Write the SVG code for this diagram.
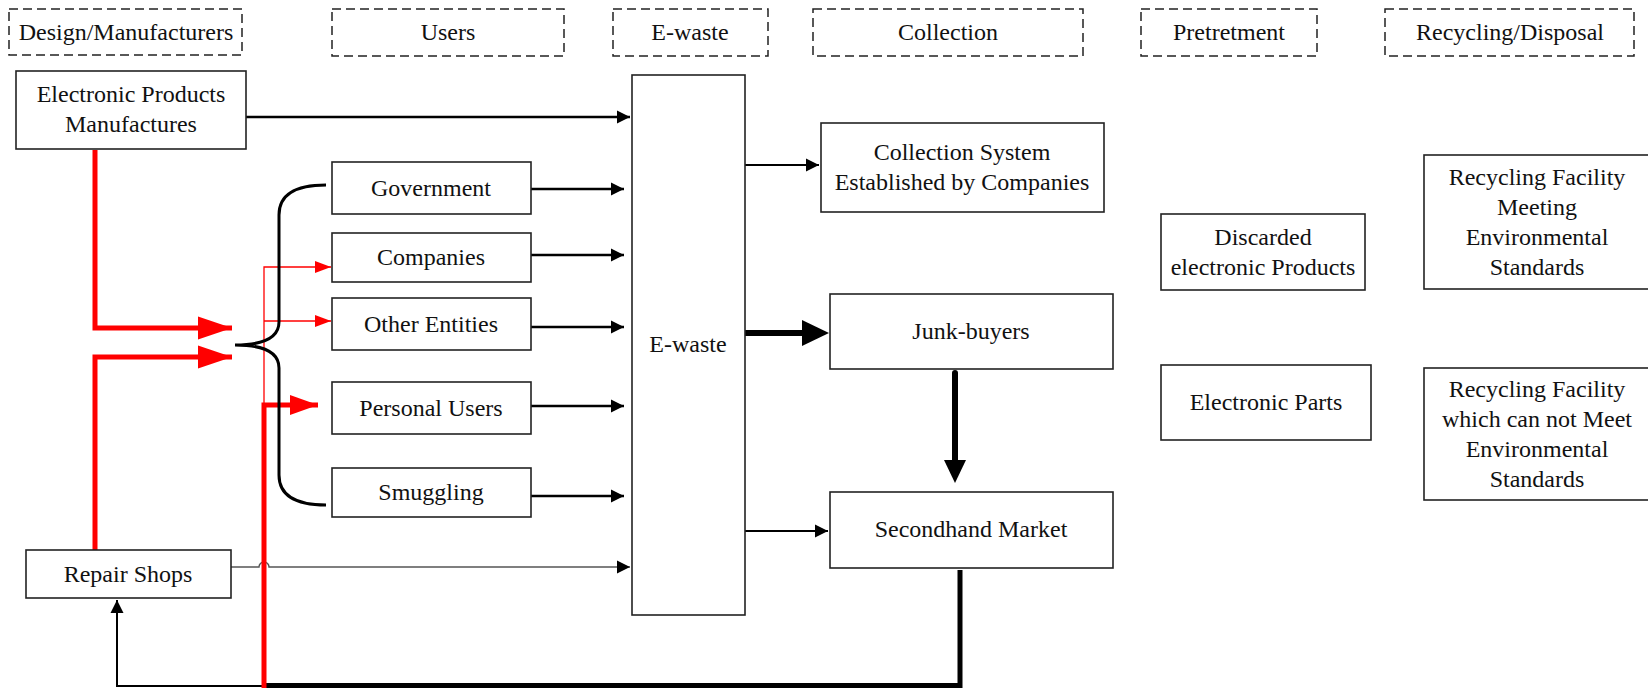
<svg xmlns="http://www.w3.org/2000/svg" width="1648" height="688" viewBox="0 0 1648 688">
<style>
text{font-family:"Liberation Serif","Times New Roman",serif;font-size:24px;fill:#111;text-anchor:middle}
.hdr{fill:none;stroke:#222;stroke-width:1.5;stroke-dasharray:9 5}
.box{fill:#fff;stroke:#222;stroke-width:1.6}
.ln{fill:none;stroke:#000;stroke-width:2.5}
.thin{fill:none;stroke:#555;stroke-width:1.4}
.thick{fill:none;stroke:#000;stroke-width:6}
.red{fill:none;stroke:#f00;stroke-width:5}
.redthin{fill:none;stroke:#f00;stroke-width:1.3}
</style>
<defs>
<marker id="ab" markerUnits="userSpaceOnUse" markerWidth="14" markerHeight="14" refX="13" refY="6.5" orient="auto" overflow="visible"><path d="M0,0 L13,6.5 L0,13 z" fill="#000"/></marker>
<marker id="abt" markerUnits="userSpaceOnUse" markerWidth="28" markerHeight="28" refX="4" refY="13" orient="auto" overflow="visible"><path d="M0,0 L27,13 L0,26 z" fill="#000"/></marker>
<marker id="abd" markerUnits="userSpaceOnUse" markerWidth="24" markerHeight="24" refX="4" refY="11" orient="auto" overflow="visible"><path d="M0,0 L23,11 L0,22 z" fill="#000"/></marker>
<marker id="rb" markerUnits="userSpaceOnUse" markerWidth="36" markerHeight="24" refX="34" refY="11.5" orient="auto" overflow="visible"><path d="M0,0 L34,11.5 L0,23 z" fill="#f00"/></marker>
<marker id="rm" markerUnits="userSpaceOnUse" markerWidth="30" markerHeight="22" refX="28" refY="10" orient="auto" overflow="visible"><path d="M0,0 L28,10 L0,20 z" fill="#f00"/></marker>
<marker id="rs" markerUnits="userSpaceOnUse" markerWidth="18" markerHeight="14" refX="16" refY="6" orient="auto" overflow="visible"><path d="M0,0 L16,6 L0,12 z" fill="#f00"/></marker>
</defs>
<rect width="1648" height="688" fill="#fff"/>

<g id="headers">
<g id="h-design"><rect class="hdr" x="9" y="9" width="233" height="46"/><text x="126" y="40">Design/Manufacturers</text></g>
<g id="h-users"><rect class="hdr" x="332" y="9" width="232" height="47"/><text x="448" y="40">Users</text></g>
<g id="h-ewaste"><rect class="hdr" x="613" y="9" width="155" height="47"/><text x="690" y="40">E-waste</text></g>
<g id="h-collection"><rect class="hdr" x="813" y="9" width="270" height="47"/><text x="948" y="40">Collection</text></g>
<g id="h-pre"><rect class="hdr" x="1141" y="9" width="176" height="47"/><text x="1229" y="40">Pretretment</text></g>
<g id="h-rec"><rect class="hdr" x="1385" y="9" width="249" height="47"/><text x="1510" y="40">Recycling/Disposal</text></g>
</g>

<g id="connectors">
<path class="ln" d="M246 117 H630" marker-end="url(#ab)"/>
<path class="ln" d="M531 189 H624" marker-end="url(#ab)"/>
<path class="ln" d="M531 255 H624" marker-end="url(#ab)"/>
<path class="ln" d="M531 327 H624" marker-end="url(#ab)"/>
<path class="ln" d="M531 406 H624" marker-end="url(#ab)"/>
<path class="ln" d="M531 496 H624" marker-end="url(#ab)"/>
<path class="thin" d="M231 567 H259 A5 5 0 0 1 269 567 H630" marker-end="url(#ab)"/>
<path class="ln" style="stroke-width:2" d="M745 165 H819" marker-end="url(#ab)"/>
<path class="thick" style="stroke-linecap:round" d="M743 333 H806" marker-end="url(#abt)"/>
<path class="thick" style="stroke-linecap:round" d="M955 373 V464" marker-end="url(#abd)"/>
<path class="ln" style="stroke-width:2" d="M745 531 H828" marker-end="url(#ab)"/>
<path class="thick" style="stroke-width:5" d="M960 570 V685.5 H264"/>
<path class="ln" style="stroke-width:2" d="M264 686 H117 V600" marker-end="url(#ab)"/>
<path class="red" d="M95 150 V328 H232" marker-end="url(#rb)"/>
<path class="red" d="M95 550 V357 H232" marker-end="url(#rb)"/>
<path class="redthin" d="M264 405 V267 H331" marker-end="url(#rs)"/>
<path class="redthin" d="M264 321 H331" marker-end="url(#rs)"/>
<path class="red" d="M264 688 V405 H318" marker-end="url(#rm)"/>
<path id="brace" fill="none" stroke="#000" stroke-width="3" d="M326 185 Q279 185 279 215 V322 Q279 345 235 345 Q279 345 279 368 V475 Q279 505 326 505"/>
</g>

<g id="n-epm"><rect class="box" x="16" y="71" width="230" height="78"/><text x="131" y="102">Electronic Products</text><text x="131" y="132">Manufactures</text></g>
<g id="n-gov"><rect class="box" x="332" y="162" width="199" height="52"/><text x="431" y="196">Government</text></g>
<g id="n-comp"><rect class="box" x="332" y="233" width="199" height="49"/><text x="431" y="265">Companies</text></g>
<g id="n-other"><rect class="box" x="332" y="298" width="199" height="52"/><text x="431" y="332">Other Entities</text></g>
<g id="n-personal"><rect class="box" x="332" y="382" width="199" height="52"/><text x="431" y="416">Personal Users</text></g>
<g id="n-smug"><rect class="box" x="332" y="468" width="199" height="49"/><text x="431" y="500">Smuggling</text></g>
<g id="n-repair"><rect class="box" x="26" y="550" width="205" height="48"/><text x="128" y="582">Repair Shops</text></g>
<g id="n-ewaste"><rect class="box" fill="none" x="632" y="75" width="113" height="540"/><text x="688" y="352">E-waste</text></g>
<g id="n-colsys"><rect class="box" x="821" y="123" width="283" height="89"/><text x="962" y="160">Collection System</text><text x="962" y="190">Established by Companies</text></g>
<g id="n-junk"><rect class="box" x="830" y="294" width="283" height="75"/><text x="971" y="339">Junk-buyers</text></g>
<g id="n-second"><rect class="box" x="830" y="492" width="283" height="76"/><text x="971" y="537">Secondhand Market</text></g>
<g id="n-discard"><rect class="box" x="1161" y="214" width="204" height="76"/><text x="1263" y="245">Discarded</text><text x="1263" y="275">electronic Products</text></g>
<g id="n-parts"><rect class="box" x="1161" y="365" width="210" height="75"/><text x="1266" y="410">Electronic Parts</text></g>
<g id="n-rfmeet"><rect class="box" x="1424" y="155" width="230" height="134"/><text x="1537" y="185">Recycling Facility</text><text x="1537" y="215">Meeting</text><text x="1537" y="245">Environmental</text><text x="1537" y="275">Standards</text></g>
<g id="n-rfnot"><rect class="box" x="1424" y="368" width="230" height="132"/><text x="1537" y="397">Recycling Facility</text><text x="1537" y="427">which can not Meet</text><text x="1537" y="457">Environmental</text><text x="1537" y="487">Standards</text></g>
</svg>
